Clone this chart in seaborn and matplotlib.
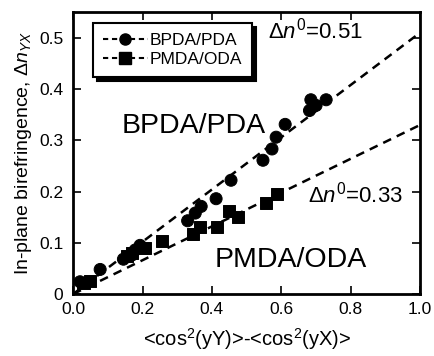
import numpy as np
import pandas as pd
import matplotlib
matplotlib.use('Agg')
import matplotlib.pyplot as plt
from matplotlib.lines import Line2D
import seaborn as sns

# data
bpda_x = [0.02, 0.078, 0.145, 0.169, 0.179, 0.193, 0.33, 0.352, 0.369, 0.412, 0.455,
          0.547, 0.573, 0.585, 0.611, 0.681, 0.685, 0.700, 0.729]
bpda_y = [0.024, 0.048, 0.068, 0.076, 0.086, 0.095, 0.143, 0.158, 0.171, 0.186, 0.222,
          0.261, 0.283, 0.306, 0.331, 0.358, 0.379, 0.368, 0.379]
pmda_x = [0.03, 0.049, 0.155, 0.169, 0.207, 0.256, 0.345, 0.366, 0.414, 0.448, 0.476,
          0.555, 0.587]
pmda_y = [0.021, 0.025, 0.074, 0.080, 0.090, 0.104, 0.118, 0.130, 0.131, 0.162, 0.150,
          0.178, 0.195]
slopes = {'BPDA/PDA': 0.51, 'PMDA/ODA': 0.33}
fit_x = [0.0, 1.0]

sns.set_style('ticks')
plt.rcParams['font.family'] = ['Liberation Sans', 'DejaVu Sans']
plt.rcParams['mathtext.fontset'] = 'custom'
plt.rcParams['mathtext.rm'] = 'Liberation Sans'
plt.rcParams['mathtext.it'] = 'Liberation Sans:italic'
for key in ['text.color', 'axes.labelcolor', 'xtick.color', 'ytick.color', 'axes.edgecolor']:
    plt.rcParams[key] = 'black'

fig = plt.figure(figsize=(4.35, 3.56), dpi=100)
ax = fig.add_axes([0.168, 0.174, 0.798, 0.792])

df = pd.concat([
    pd.DataFrame({'x': bpda_x, 'y': bpda_y, 'polymer': 'BPDA/PDA'}),
    pd.DataFrame({'x': pmda_x, 'y': pmda_y, 'polymer': 'PMDA/ODA'}),
])
sns.scatterplot(data=df, x='x', y='y', style='polymer', markers={'BPDA/PDA': 'o', 'PMDA/ODA': 's'},
                color='black', s=75, edgecolor='black', legend=False, ax=ax, zorder=3)

for name, k in slopes.items():
    ax.plot(fit_x, [k * v for v in fit_x], color='black', ls=(0, (3.5, 2.5)), lw=1.8)

ax.set_xlim(0, 1.0)
ax.set_ylim(0, 0.55)
ax.set_xticks([0, 0.2, 0.4, 0.6, 0.8, 1.0])
ax.set_xticklabels(['0.0', '0.2', '0.4', '0.6', '0.8', '1.0'])
ax.set_yticks([0, 0.1, 0.2, 0.3, 0.4, 0.5])
ax.set_yticklabels(['0', '0.1', '0.2', '0.3', '0.4', '0.5'])
ax.tick_params(direction='in', length=6, width=1.2, labelsize=12.5, top=True, right=True)
ax.tick_params(axis='x', pad=6)
ax.tick_params(axis='y', pad=7)
for sp in ax.spines.values():
    sp.set_linewidth(2)

ax.set_xlabel('<cos$^2$(yY)>-<cos$^2$(yX)>', fontsize=14.5, labelpad=6)
ax.set_ylabel('In-plane birefringence, $\\Delta n_{YX}$', fontsize=14, labelpad=4)

ax.text(0.562, 0.498, '$\\Delta n^0$=0.51', fontsize=16)
ax.text(0.14, 0.315, 'BPDA/PDA', fontsize=20.5)
ax.text(0.677, 0.179, '$\\Delta n^0$=0.33', fontsize=16)
ax.text(0.409, 0.053, 'PMDA/ODA', fontsize=20.5)

handles = [Line2D([], [], color='black', ls=(0, (2.5, 1.8)), marker='o', markersize=8, lw=1.5),
           Line2D([], [], color='black', ls=(0, (2.5, 1.8)), marker='s', markersize=8, lw=1.5)]
leg = ax.legend(handles, list(slopes.keys()), loc='upper left', fontsize=12.5, frameon=True,
                fancybox=False, shadow={'color': 'black', 'alpha': 1, 'ox': 3, 'oy': -3},
                edgecolor='black', framealpha=1,
                handlelength=2.6, bbox_to_anchor=(0.058, 0.961), borderaxespad=0.0,
                labelspacing=0.25, handletextpad=0.1, borderpad=0.55)
leg.get_frame().set_linewidth(1.5)

plt.savefig('out.png', dpi=100)
